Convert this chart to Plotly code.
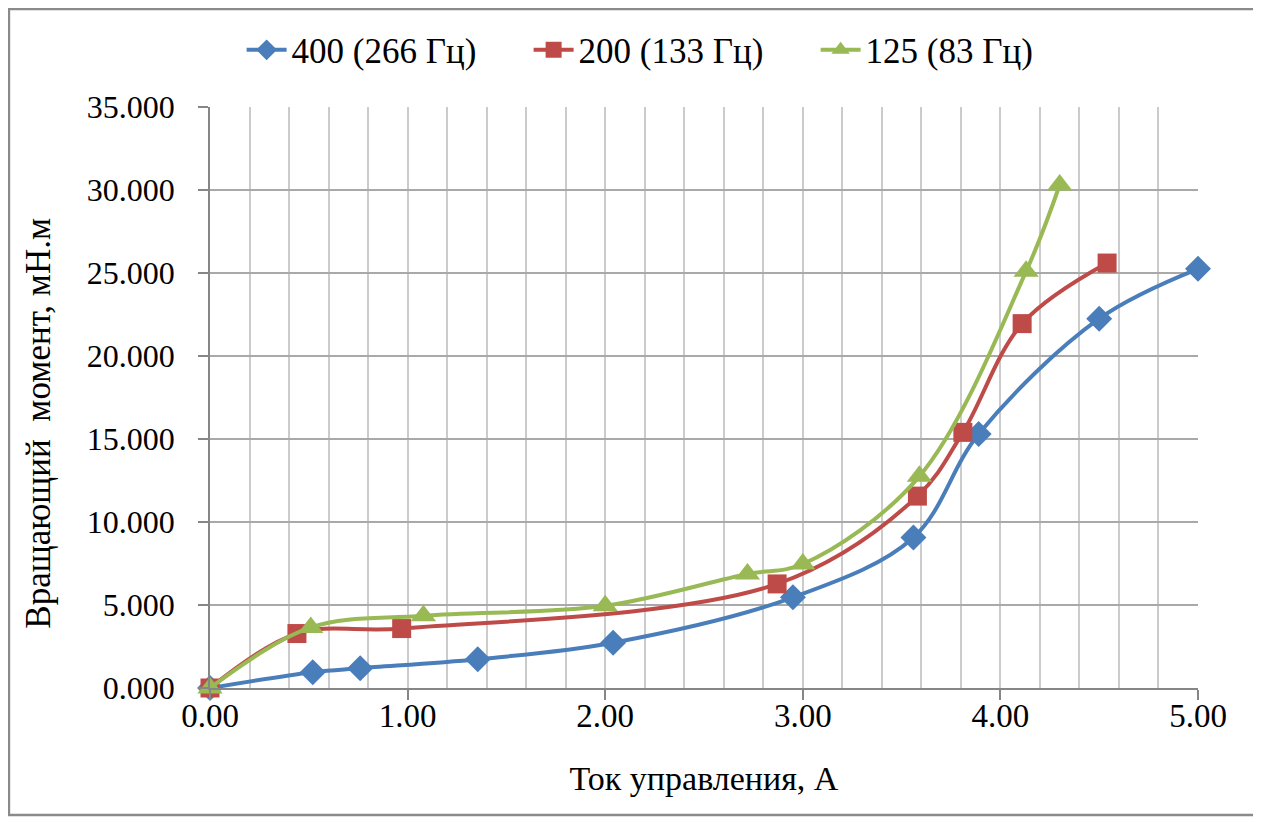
import plotly.graph_objects as go

# Data
x_400 = [0.0, 0.52, 0.76, 1.355, 2.04, 2.95, 3.56, 3.89, 4.50, 5.00]
y_400 = [0.0, 0.95, 1.19, 1.73, 2.73, 5.46, 9.07, 15.3, 22.25, 25.25]

x_200 = [0.0, 0.44, 0.97, 2.87, 3.58, 3.81, 4.11, 4.54]
y_200 = [0.0, 3.28, 3.58, 6.27, 11.56, 15.4, 21.95, 25.6]

x_125 = [0.0, 0.51, 1.08, 2.00, 2.72, 3.00, 3.59, 4.13, 4.30]
y_125 = [0.0, 3.65, 4.35, 4.95, 6.87, 7.47, 12.75, 25.1, 30.3]

series_names = ["400 (266 Гц)", "200 (133 Гц)", "125 (83 Гц)"]
series_colors = ["#4a7ebb", "#be4b48", "#98b954"]

x_title = "Ток управления, А"
y_title = "Вращающий  момент, мН.м"

FONT = "Liberation Serif, Times New Roman, serif"

fig = go.Figure()
for xs, ys, name, color, sym, size in [
    (x_400, y_400, series_names[0], series_colors[0], "diamond", 20),
    (x_200, y_200, series_names[1], series_colors[1], "square", 19),
    (x_125, y_125, series_names[2], series_colors[2], "triangle-up", 22),
]:
    fig.add_trace(go.Scatter(
        x=xs, y=ys, name=name, mode="lines+markers", cliponaxis=False,
        line=dict(color=color, width=4, shape="spline", smoothing=1.0),
        marker=dict(symbol=sym, size=size, color=color),
    ))

fig.update_layout(
    width=1253, height=815,
    margin=dict(l=202, r=63, t=99, b=135, autoexpand=False),
    paper_bgcolor="white", plot_bgcolor="white",
    font=dict(family=FONT, size=32, color="black"),
    showlegend=True,
    legend=dict(orientation="h", x=0.032, xanchor="left", y=1.098, yanchor="middle",
                font=dict(family=FONT, size=35), itemwidth=40, traceorder="normal",
                entrywidth=232, entrywidthmode="pixels",
                bgcolor="rgba(0,0,0,0)"),
    xaxis=dict(
        range=[0, 5], dtick=1, tick0=0, tickformat=".2f",
        showline=True, linecolor="#868686", linewidth=1.5,
        ticks="outside", ticklen=10, tickcolor="#868686", tickwidth=1.5,
        ticklabelstandoff=-12,
        showgrid=True, gridcolor="#cbcbcb", gridwidth=2,
        minor=dict(dtick=0.2, showgrid=True, gridcolor="#cbcbcb", gridwidth=2),
        zeroline=False,
        tickfont=dict(family=FONT, size=33),
        title=dict(text=x_title, font=dict(family=FONT, size=34), standoff=33),
    ),
    yaxis=dict(
        range=[0, 35], dtick=5, tick0=0, tickformat=".3f",
        showline=True, linecolor="#868686", linewidth=1.5,
        ticks="outside", ticklen=10, tickcolor="#868686", tickwidth=1.5,
        ticklabelstandoff=17,
        showgrid=True, gridcolor="#a9a9a9", gridwidth=1.5,
        zeroline=False,
        tickfont=dict(family=FONT, size=32),
        title=dict(text=""),
    ),
    annotations=[dict(text=y_title, textangle=-90, xref="paper", yref="paper",
                      x=(31 - 202) / 988, y=0.455, xanchor="center", yanchor="middle",
                      showarrow=False, font=dict(family=FONT, size=35, color="black"))],
    shapes=[dict(type="rect", xref="paper", yref="paper",
                 x0=-0.2035, x1=1.0587, y0=-0.2186, y1=1.1687,
                 line=dict(color="#8a8a8a", width=2.5), fillcolor="rgba(0,0,0,0)",
                 layer="below")],
)

fig.write_html("out.html")
